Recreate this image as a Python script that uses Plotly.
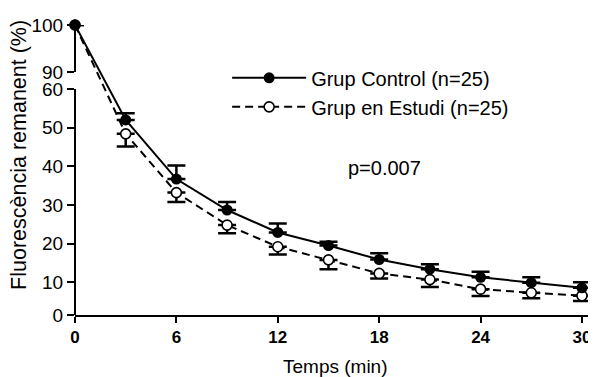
import numpy as np
import plotly.graph_objects as go

# ---- data ----
time_min = [0, 3, 6, 9, 12, 15, 18, 21, 24, 27, 30]
control_mean = [100, 52.0, 36.7, 28.7, 22.9, 19.5, 15.9, 13.4, 11.3, 9.9, 8.3]
control_upper = [100, 53.7, 40.2, 30.8, 25.2, 20.5, 17.5, 14.7, 12.7, 11.3, 10.0]
study_mean = [100, 48.4, 33.2, 24.8, 19.2, 15.8, 12.3, 10.7, 7.9, 6.8, 5.9]
study_lower = [100, 45.1, 30.8, 22.7, 17.2, 13.4, 11.0, 8.6, 5.8, 5.1, 4.3]
x_ticks = [0, 6, 12, 18, 24, 30]
y_ticks = [0, 10, 20, 30, 40, 50, 60, 90, 100]
y_tick_labels = ["0", "10", "20", "30", "40", "50", "60", "90", "100"]
legend_names = ["Grup Control (n=25)", "Grup en Estudi (n=25)"]
p_text = "p=0.007"

# ---- broken y scale (lower 0-60, upper 90-100) ----
LOW_K, LOW_P = [0, 10, 60], [0, 32.7, 226]
UP_K, UP_P = [90, 100], [243, 290]


def yscale(v):
    v = np.asarray(v, dtype=float)
    return np.where(v >= 75, np.interp(v, UP_K, UP_P), np.interp(v, LOW_K, LOW_P))


c_y = yscale(control_mean)
c_err = yscale(control_upper) - c_y
s_y = yscale(study_mean)
s_err = s_y - yscale(study_lower)

FONT = "Arial, Liberation Sans, sans-serif"

fig = go.Figure()
fig.add_trace(go.Scatter(
    x=time_min, y=s_y, name=legend_names[1], mode="lines+markers",
    line=dict(color="black", width=2, dash="8px,5px"),
    marker=dict(symbol="circle", size=10, color="white", line=dict(color="black", width=1.6)),
    error_y=dict(type="data", symmetric=False, array=[0] * len(s_err), arrayminus=list(s_err),
                 color="black", thickness=2.5, width=9),
    cliponaxis=False, legendrank=2,
))
fig.add_trace(go.Scatter(
    x=time_min, y=c_y, name=legend_names[0], mode="lines+markers",
    line=dict(color="black", width=2),
    marker=dict(symbol="circle", size=11, color="black"),
    error_y=dict(type="data", symmetric=False, array=list(c_err), arrayminus=[0] * len(c_err),
                 color="black", thickness=2.5, width=9),
    cliponaxis=False, legendrank=1,
))

# y-axis brackets (two segments)
for lo, hi in [(0, 60), (90, 100)]:
    fig.add_shape(type="line", xref="paper", yref="y", x0=0, x1=0,
                  y0=float(yscale(lo)), y1=float(yscale(hi)),
                  line=dict(color="black", width=2))

# page body adds an 8px offset, so the figure is sized 8px smaller
fig.update_layout(
    width=588, height=369,
    margin=dict(l=67, r=0, t=17, b=62),
    plot_bgcolor="white", paper_bgcolor="white",
    font=dict(family=FONT, color="black"),
    showlegend=True,
    legend=dict(x=0.292, y=0.885, xanchor="left", yanchor="top",
                font=dict(size=20, family=FONT), itemwidth=74,
                bgcolor="rgba(0,0,0,0)", tracegroupgap=0),
    xaxis=dict(range=[0, 30.83], tickvals=x_ticks, showline=True, linecolor="black",
               linewidth=2, ticks="outside", ticklen=6, tickwidth=2, tickcolor="black",
               showgrid=False, zeroline=False, automargin=False,
               tickfont=dict(size=17, family=FONT, weight="bold")),
    yaxis=dict(range=[0, 290], tickvals=list(yscale(y_ticks)), ticktext=y_tick_labels,
               showline=False, ticks="outside", ticklen=7, tickwidth=2, tickcolor="black",
               showgrid=False, zeroline=False, automargin=False,
               tickfont=dict(size=19, family=FONT)),
)

fig.add_annotation(text="Fluorescència remanent (%)", xref="paper", yref="paper",
                   x=0, xshift=-56, y=0.552, textangle=-90, showarrow=False,
                   xanchor="center", yanchor="middle", font=dict(size=21.5, family=FONT))
fig.add_annotation(text="Temps (min)", xref="paper", yref="paper",
                   x=0.5, y=-0.179, showarrow=False, xanchor="center", yanchor="middle",
                   font=dict(size=19, family=FONT))
fig.add_annotation(text=p_text, xref="paper", yref="paper",
                   x=0.595, y=0.507, showarrow=False, xanchor="center", yanchor="middle",
                   font=dict(size=20, family=FONT))

fig.write_html("out.html")
